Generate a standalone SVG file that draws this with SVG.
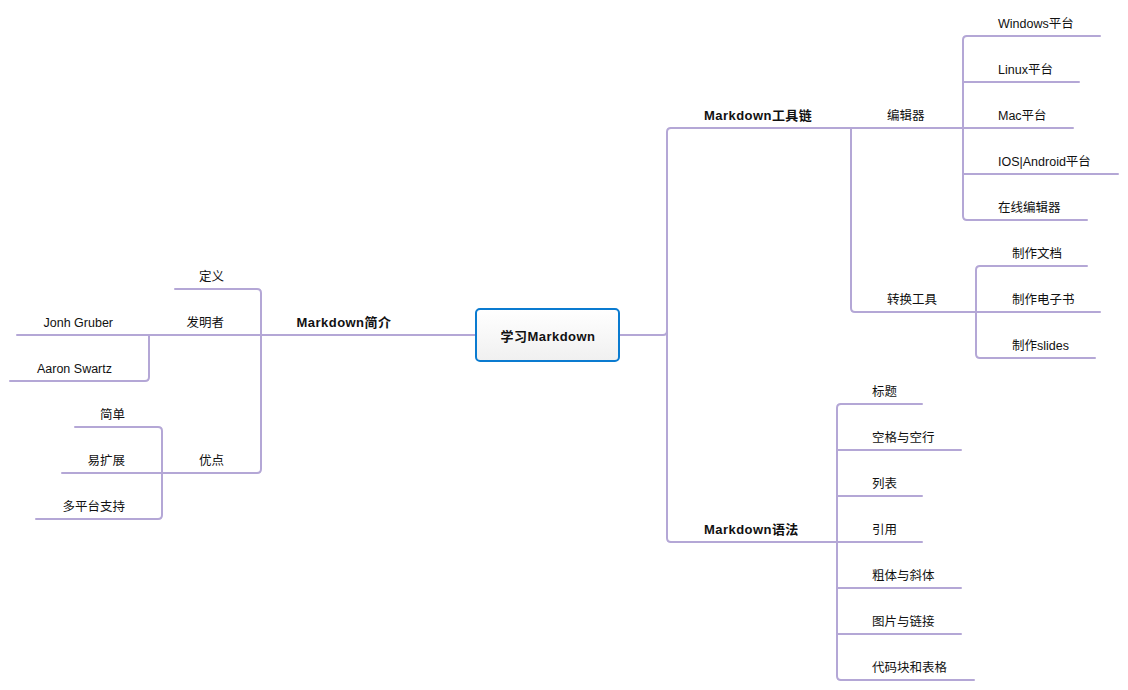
<svg xmlns="http://www.w3.org/2000/svg" width="1128" height="690" viewBox="0 0 1128 690">
<defs>
<linearGradient id="cg" x1="0" y1="0" x2="0" y2="1">
<stop offset="0" stop-color="#ffffff"/>
<stop offset="1" stop-color="#f0f0f0"/>
</linearGradient>
<style>
.c{fill:none;stroke:#b4a7d6;stroke-width:2;stroke-linecap:round}
.t{font-family:"Liberation Sans","Noto Sans CJK SC",sans-serif;font-size:12.5px;fill:#111}
.b{font-family:"Liberation Sans","Noto Sans CJK SC",sans-serif;font-size:13px;font-weight:bold;fill:#111;letter-spacing:0.45px}
.e{text-anchor:end}
</style>
</defs>
<rect width="1128" height="690" fill="#ffffff"/>
<g id="connectors">
<path class="c" d="M619 335 L663 335 Q667 335 667 331"/>
<path class="c" d="M671 128 Q667 128 667 132 L667 538 Q667 542 671 542"/>
<path class="c" d="M671 128 L962 128"/>
<path class="c" d="M671 542 L837 542"/>
<path class="c" d="M851 128 L851 308 Q851 312 855 312 L976 312"/>
<path class="c" d="M967 36 Q963 36 963 40 L963 216 Q963 220 967 220"/>
<path class="c" d="M967 36 L1100 36"/>
<path class="c" d="M963 82 L1079 82"/>
<path class="c" d="M963 128 L1073 128"/>
<path class="c" d="M963 174 L1118 174"/>
<path class="c" d="M967 220 L1087 220"/>
<path class="c" d="M980 266 Q976 266 976 270 L976 354 Q976 358 980 358"/>
<path class="c" d="M980 266 L1087 266"/>
<path class="c" d="M976 312 L1100 312"/>
<path class="c" d="M980 358 L1095 358"/>
<path class="c" d="M841 404 Q837 404 837 408 L837 676 Q837 680 841 680"/>
<path class="c" d="M841 404 L922 404"/>
<path class="c" d="M837 450 L961 450"/>
<path class="c" d="M837 496 L922 496"/>
<path class="c" d="M837 542 L922 542"/>
<path class="c" d="M837 588 L961 588"/>
<path class="c" d="M837 634 L961 634"/>
<path class="c" d="M841 680 L974 680"/>
<path class="c" d="M476 335 L17 335"/>
<path class="c" d="M175 289 L257 289 Q261 289 261 293 L261 469 Q261 473 257 473 L162 473"/>
<path class="c" d="M149 335 L149 377 Q149 381 145 381 L10 381"/>
<path class="c" d="M75 427 L158 427 Q162 427 162 431 L162 515 Q162 519 158 519 L36 519"/>
<path class="c" d="M162 473 L62 473"/>
</g>
<g id="center">
<rect x="476" y="309" width="143" height="52" rx="4" fill="url(#cg)" stroke="#0a7bd0" stroke-width="2"/>
<text class="b" x="548" y="341" text-anchor="middle">学习Markdown</text>
</g>
<g id="toolchain"><text class="b" x="704" y="120">Markdown工具链</text></g>
<g id="editor"><text class="t" x="887" y="120">编辑器</text></g>
<g id="windows"><text class="t" x="998" y="28">Windows平台</text></g>
<g id="linux"><text class="t" x="998" y="74">Linux平台</text></g>
<g id="mac"><text class="t" x="998" y="120">Mac平台</text></g>
<g id="ios"><text class="t" x="998" y="166">IOS|Android平台</text></g>
<g id="online"><text class="t" x="998" y="212">在线编辑器</text></g>
<g id="convert"><text class="t" x="887" y="304">转换工具</text></g>
<g id="doc"><text class="t" x="1012" y="258">制作文档</text></g>
<g id="ebook"><text class="t" x="1012" y="304">制作电子书</text></g>
<g id="slides"><text class="t" x="1012" y="350">制作slides</text></g>
<g id="syntax"><text class="b" x="704" y="534">Markdown语法</text></g>
<g id="title"><text class="t" x="872" y="396">标题</text></g>
<g id="space"><text class="t" x="872" y="442">空格与空行</text></g>
<g id="list"><text class="t" x="872" y="488">列表</text></g>
<g id="quote"><text class="t" x="872" y="534">引用</text></g>
<g id="bold"><text class="t" x="872" y="580">粗体与斜体</text></g>
<g id="image"><text class="t" x="872" y="626">图片与链接</text></g>
<g id="code"><text class="t" x="872" y="672">代码块和表格</text></g>
<g id="intro"><text class="b" x="344" y="327" text-anchor="middle">Markdown简介</text></g>
<g id="define"><text class="t e" x="224" y="281">定义</text></g>
<g id="inventor"><text class="t e" x="224" y="327">发明者</text></g>
<g id="gruber"><text class="t e" x="113" y="327">Jonh Gruber</text></g>
<g id="swartz"><text class="t e" x="112" y="373">Aaron Swartz</text></g>
<g id="merit"><text class="t e" x="224" y="465">优点</text></g>
<g id="simple"><text class="t e" x="125" y="419">简单</text></g>
<g id="extend"><text class="t e" x="125" y="465">易扩展</text></g>
<g id="multi"><text class="t e" x="125" y="511">多平台支持</text></g>
</svg>
